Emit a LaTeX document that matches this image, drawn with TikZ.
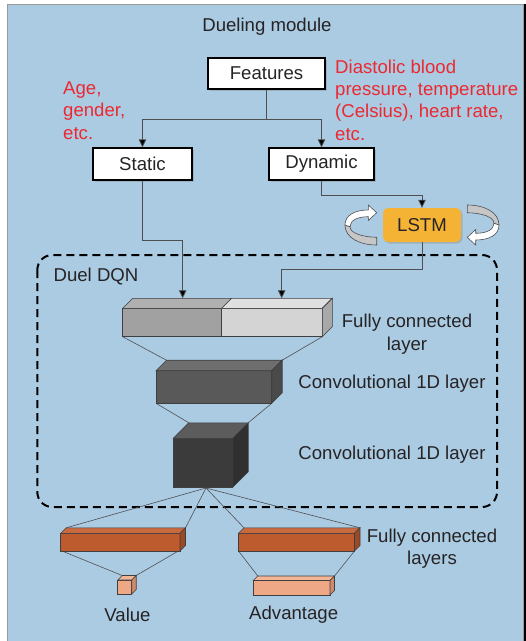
\documentclass[tikz,border=0pt]{standalone}
\usepackage{fontspec}
\setmainfont{Liberation Sans}
\usetikzlibrary{arrows.meta,shadows,calc}
\definecolor{panel}{HTML}{ABCBE3}
\definecolor{txt}{HTML}{262324}
\definecolor{redtxt}{HTML}{EC2830}
\definecolor{connc}{HTML}{4F4F52}
\definecolor{lstmc}{HTML}{F5B335}
\newcommand\cuboid[8]{%
  \filldraw[fill=#6,cubeline] (#1,#2) rectangle (#3,#4);
  \filldraw[fill=#7,cubeline] (#1,#2) -- ++(#5,-#5) -- (#3+#5,#2-#5) -- (#3,#2) -- cycle;
  \filldraw[fill=#8,cubeline] (#3,#2) -- (#3+#5,#2-#5) -- (#3+#5,#4-#5) -- (#3,#4) -- cycle;
}
\begin{document}
\begin{tikzpicture}[x=1pt,y=-1pt,
  every node/.style={font=\fontsize{18.6}{22.4}\selectfont,text=txt},
  box/.style={draw=black,line width=1.2pt,fill=white,minimum height=32pt,inner sep=0pt,
    drop shadow={shadow xshift=1.5pt,shadow yshift=-1.5pt,opacity=0.35}},
  conn/.style={draw=connc,line width=0.8pt},
  arr/.style={conn,-{Triangle[length=8pt,width=7.5pt,fill=black]}},
  cubeline/.style={draw=connc!80!black,line width=0.6pt},
  thin/.style={draw=connc,line width=0.6pt},
  redlab/.style={text=redtxt,align=left,inner sep=0pt},
  lay/.style={align=center,inner sep=0pt},
  ribbon/.style={draw=connc,line width=0.6pt}]
\useasboundingbox (0,0) rectangle (526,641);
\fill[white] (0,0) rectangle (526,641);
\filldraw[fill=panel,draw=gray!80] (7,4) rectangle (523,645);
\draw[black,line width=2pt] (524.5,4) -- (524.5,641);

\node (title) at (267,27) {Dueling module};
\node[box,minimum width=117pt,minimum height=31pt] (features) at (266.5,73.5) {Features};
\node[box,minimum width=99pt] (static) at (142.5,164) {Static};
\node[box,minimum width=105pt] (dynamic) at (321.5,164) {Dynamic};
\node[draw=none,fill=lstmc,rounded corners=5pt,minimum width=78pt,minimum height=34pt,inner sep=0pt,
  drop shadow={shadow xshift=1.5pt,shadow yshift=-1.5pt,opacity=0.35}] (lstm) at (422,225) {LSTM};

\node[redlab,anchor=west] (agelab) at (63,110.5) {Age,\\gender,\\etc.};
\node[redlab,anchor=west] (dynlab) at (335,100) {Diastolic blood\\pressure, temperature\\(Celsius), heart rate,\\etc.};

% circular arrows
\begin{scope}
  \filldraw[ribbon,fill=gray!45] (345,225) .. controls (345,238) and (360,245) .. (376.7,245) -- (376.7,237.3) .. controls (362,237) and (350,233) .. (350,226.7) -- cycle;
  \filldraw[ribbon,fill=white] (345,225) .. controls (345,215) and (355,210) .. (368.3,210) -- (368.3,205) -- (376.7,212.7) -- (368.3,220.5) -- (368.3,216.7) .. controls (358,216.7) and (350,220) .. (350,226.7) -- cycle;
\end{scope}
\begin{scope}[rotate around={180:(422,225)}]
  \filldraw[ribbon,fill=gray!45] (345,225) .. controls (345,238) and (360,245) .. (376.7,245) -- (376.7,237.3) .. controls (362,237) and (350,233) .. (350,226.7) -- cycle;
  \filldraw[ribbon,fill=white] (345,225) .. controls (345,215) and (355,210) .. (368.3,210) -- (368.3,205) -- (376.7,212.7) -- (368.3,220.5) -- (368.3,216.7) .. controls (358,216.7) and (350,220) .. (350,226.7) -- cycle;
\end{scope}

% duel DQN frame
\draw[black,line width=2pt,dash pattern=on 8pt off 5pt,rounded corners=15pt] (37.3,255) rectangle (497,507);
\node (dqn) at (96,277) {Duel DQN};

\coordinate (fcinL) at (182.7,298.3);
\coordinate (fcinR) at (281.7,298.3);
\coordinate (apex) at (206,488);

% connectors
\draw[arr] (features.south) -- ++(0,30) -| (static.north);
\draw[arr] (features.south) -- ++(0,30) -| (dynamic.north);
\draw[arr] (dynamic.south) -- ++(0,15) -| (lstm.north);
\draw[arr] (static.south) -- ++(0,60) -| (fcinL);
\draw[arr] (lstm.south) -- ++(0,27) -| (fcinR);

% layer connecting lines
\draw[thin] (122.7,336.7) -- (166.5,360.2);
\draw[thin] (322.3,336.7) -- (282.2,360.2);
\draw[thin] (156,403.3) -- (188.8,422.8);
\draw[thin] (271.7,403.3) -- (248.2,422.8);
\draw[thin] (apex) -- (66.2,527.8);
\draw[thin] (apex) -- (185.5,527.8);
\draw[thin] (apex) -- (244,527.8);
\draw[thin] (apex) -- (360,527.8);
\draw[thin] (62,551) -- (122.2,575.5);
\draw[thin] (178.3,551) -- (136.2,575.5);
\draw[thin] (238.5,551) -- (257.8,576);
\draw[thin] (354.5,551) -- (334.5,576);

% FC layer (two parts)
\filldraw[fill=black!37,cubeline] (122.7,308.3) rectangle (221.7,336.7);
\filldraw[fill=black!31,cubeline] (122.7,308.3) -- ++(10,-10) -- (231.7,298.3) -- (221.7,308.3) -- cycle;
\cuboid{221.7}{308.3}{322.3}{336.7}{10}{black!17}{black!12}{black!34}
% conv layers
\cuboid{156}{370.7}{271.7}{403.3}{10.5}{black!65}{black!57}{black!71}
\cuboid{173.3}{438.3}{232.7}{487.3}{15.5}{black!77}{black!64}{black!81}
% fc branches
\definecolor{fcfront}{HTML}{BD5B2E}\definecolor{fctop}{HTML}{C96A3E}\definecolor{fcside}{HTML}{9C4A26}
\definecolor{outfront}{HTML}{EFA886}\definecolor{outtop}{HTML}{F2B596}\definecolor{outside}{HTML}{CF8A6C}
\cuboid{60.7}{533.3}{180}{551}{5.5}{fcfront}{fctop}{fcside}
\cuboid{238.5}{533.3}{354.5}{551}{5.5}{fcfront}{fctop}{fcside}
\cuboid{117.7}{580}{131.7}{594}{4.5}{outfront}{outtop}{outside}
\cuboid{253.3}{580.5}{330}{595}{4.5}{outfront}{outtop}{outside}

% labels
\node[lay] (fcl) at (407,334) {Fully connected\\layer};
\node[lay] (c1l) at (392,383.5) {Convolutional 1D layer};
\node[lay] (c2l) at (392,454.5) {Convolutional 1D layer};
\node[lay] (fcsl) at (432,548.5) {Fully connected\\layers};
\node (vall) at (127.5,614.5) {Value};
\node (advl) at (293.7,614.5) {Advantage};
\end{tikzpicture}
\end{document}
